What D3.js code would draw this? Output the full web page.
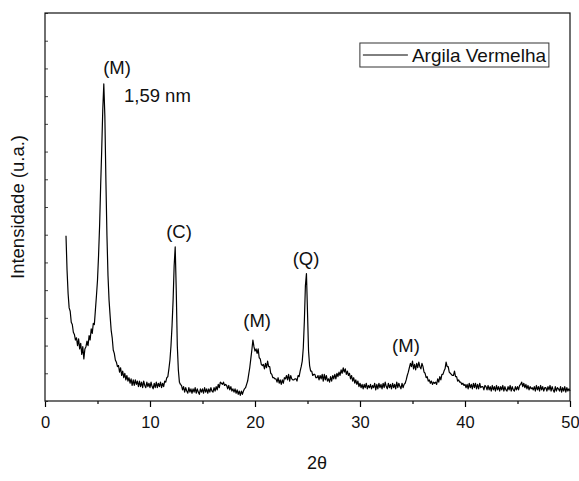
<!DOCTYPE html>
<html>
<head>
<meta charset="utf-8">
<script src="https://cdn.jsdelivr.net/npm/d3@7/dist/d3.min.js"></script>
<style>
  body { margin: 0; background: #fff; }
  text { font-family: "Liberation Sans", Arial, sans-serif; fill: #111; }
</style>
</head>
<body>
<div id="chart"></div>
<script>
// varredura: inicio e passo em 2theta
var angleStart = 2.0;
var angleStep = 0.1;

var intensity = [
  149,118,97,84,81,71,69,62,60,55,
  57,50,56,47,52,42,49,38,47,49,
  54,50,59,55,65,61,70,69,82,95,
  109,131,158,194,226,262,286,257,199,149,
  113,91,77,64,57,46,43,37,35,31,
  32,26,30,23,27,21,25,19,23,18,
  21,16,20,14,19,14,19,15,18,13,
  18,13,17,12,18,14,12,17,13,16,
  12,17,13,11,16,12,17,12,16,13,
  17,12,16,13,18,17,21,22,29,37,
  50,68,91,122,139,100,50,28,17,15,
  14,10,13,8,12,9,7,12,8,11,
  7,11,8,12,7,11,8,6,11,8,
  11,7,12,8,11,7,11,8,12,9,
  8,12,9,13,10,15,12,17,16,15,
  17,14,15,14,11,14,10,13,9,11,
  8,11,7,10,6,9,5,9,6,9,
  11,12,15,18,24,30,38,46,55,49,
  45,47,43,47,39,38,33,32,33,29,
  34,30,36,31,31,25,24,21,21,20,
  20,17,21,16,19,15,19,16,21,20,
  23,19,24,18,23,20,19,19,20,20,
  18,23,22,27,31,36,48,72,104,115,
  80,45,32,27,27,23,24,24,21,21,
  23,19,23,20,24,18,24,19,23,18,
  20,17,22,18,23,20,24,20,25,22,
  26,23,28,25,30,26,29,24,27,23,
  25,20,23,18,21,16,19,15,18,13,
  16,12,15,11,15,12,16,11,14,12,
  15,11,14,12,16,10,15,11,16,12,
  15,11,16,12,17,13,11,16,12,15,
  11,16,12,15,11,17,12,16,13,11,
  16,12,15,16,19,23,26,30,34,31,
  36,29,33,28,34,30,35,31,29,34,
  31,26,25,21,22,18,19,16,18,15,
  17,16,17,15,20,17,22,19,24,24,
  27,29,35,31,31,26,25,24,23,23,
  27,22,22,18,19,17,17,15,16,14,
  15,12,15,11,16,12,15,11,16,12,
  16,11,15,11,16,12,13,13,10,14,
  13,10,14,10,13,9,14,10,13,9,
  14,10,13,9,13,10,14,9,13,10,
  9,13,10,14,9,13,10,9,13,10,
  13,10,14,15,17,13,16,12,15,11,
  14,10,13,11,12,10,13,9,14,10,
  13,9,14,10,13,9,12,12,9,13,
  10,14,9,13,10,8,13,9,12,11,
  9,13,8,12,9,13,8,12,9,11,
  9
];

var xMajorTicks = [0, 10, 20, 30, 40, 50];
var xMinorTicks = [5, 15, 25, 35, 45];
var yMinorTicks = [0, 25, 50, 75, 100, 125, 150, 175, 200, 225, 250, 275, 300, 325, 350];

// picos identificados
var peakLabels = ["(M)", "(C)", "(M)", "(Q)", "(M)"];
var peakAngles = [6.86, 12.76, 20.2, 24.86, 34.38];
var peakHeights = [295, 147, 67, 123, 44];
var noteText = "1,59 nm";
var seriesName = "Argila Vermelha";

var width = 579, height = 481;
var margin = {top: 13, right: 9, bottom: 80, left: 45};
var w = width - margin.left - margin.right;
var h = height - margin.top - margin.bottom;

var svg = d3.select("#chart").append("svg")
    .attr("width", width)
    .attr("height", height);

var g = svg.append("g").attr("transform", "translate(" + margin.left + "," + margin.top + ")");

var x = d3.scaleLinear().domain([0, 50]).range([0, w]);
var y = d3.scaleLinear().domain([0, 350]).range([h, 0]);

var data = intensity.map(function(v, i){
    return {t: angleStart + i * angleStep, v: v};
});

// curva
var line = d3.line()
    .x(function(d){ return x(d.t); })
    .y(function(d){ return y(d.v); });

g.append("path")
    .datum(data)
    .attr("fill", "none")
    .attr("stroke", "#000")
    .attr("stroke-width", 1.2)
    .attr("stroke-linejoin", "round")
    .attr("d", line);

// eixo x
var xAxis = g.append("g")
    .attr("transform", "translate(0," + h + ")")
    .call(d3.axisBottom(x).tickValues(xMajorTicks).tickSize(6).tickPadding(9).tickFormat(d3.format("d")));
xAxis.select(".domain").remove();
xAxis.selectAll("line").attr("stroke", "#000").attr("stroke-width", 1.2);
xAxis.selectAll("text").style("font-size", "16.5px").attr("fill", "#111");

g.append("g")
    .attr("transform", "translate(0," + h + ")")
    .call(d3.axisBottom(x).tickValues(xMinorTicks).tickSize(3).tickFormat(""))
    .call(function(a){ a.select(".domain").remove(); a.selectAll("line").attr("stroke", "#000").attr("stroke-width", 1.2); });

// eixo y: so marcas menores, para dentro
g.append("g")
    .call(d3.axisLeft(y).tickValues(yMinorTicks).tickSize(-3).tickFormat(""))
    .call(function(a){ a.select(".domain").remove(); a.selectAll("line").attr("stroke", "#444").attr("stroke-width", 1); });

// moldura
g.append("rect")
    .attr("x", 0).attr("y", 0)
    .attr("width", w).attr("height", h)
    .attr("fill", "none")
    .attr("stroke", "#111")
    .attr("stroke-width", 1.2);

// rotulos dos picos
g.selectAll(".peak")
    .data(peakLabels)
    .enter()
    .append("text")
    .attr("class", "peak")
    .attr("x", function(d, i){ return x(peakAngles[i]); })
    .attr("y", function(d, i){ return y(peakHeights[i]); })
    .attr("text-anchor", "middle")
    .style("font-size", "18.5px")
    .text(function(d){ return d; });

g.append("text")
    .attr("x", x(7.52))
    .attr("y", y(270))
    .style("font-size", "18.5px")
    .text(noteText);

// legenda
var leg = g.append("g").attr("transform", "translate(" + (x(29.99)) + "," + 30 + ")");
leg.append("rect")
    .attr("width", 189).attr("height", 24)
    .attr("fill", "#fff")
    .attr("stroke", "#333")
    .attr("stroke-width", 1);
leg.append("line")
    .attr("x1", 3).attr("x2", 48)
    .attr("y1", 12).attr("y2", 12)
    .attr("stroke", "#000");
leg.append("text")
    .attr("x", 52).attr("y", 19)
    .style("font-size", "19px")
    .text(seriesName);

// titulos dos eixos
svg.append("text")
    .attr("x", 317)
    .attr("y", 469)
    .attr("text-anchor", "middle")
    .style("font-size", "18px")
    .text("2θ");

svg.append("text")
    .attr("transform", "translate(24," + (margin.top + h / 2) + ") rotate(-90)")
    .attr("text-anchor", "middle")
    .style("font-size", "18.5px")
    .text("Intensidade (u.a.)");
</script>
</body>
</html>
